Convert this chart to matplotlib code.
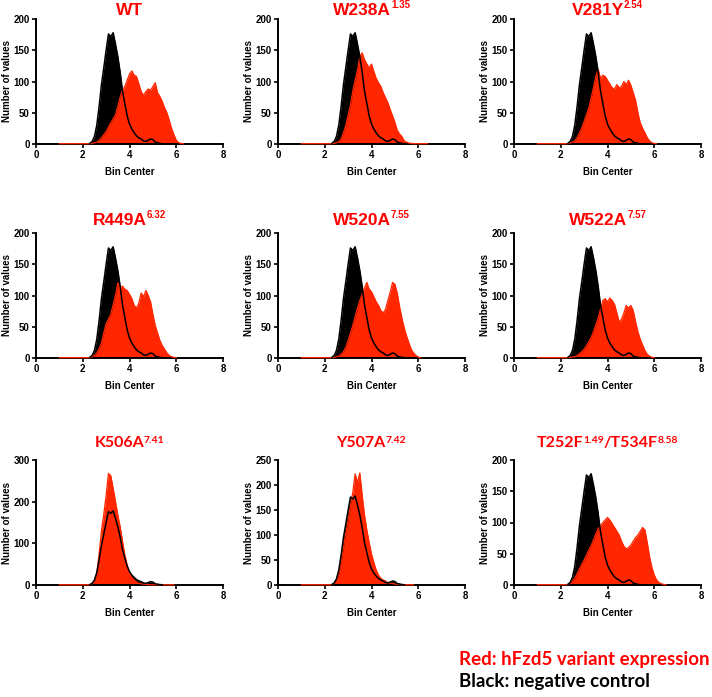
import numpy as np
import matplotlib
matplotlib.use('Agg')
import matplotlib.pyplot as plt

# histogram bin centres (bin width 0.1)
bin_center = np.round(np.arange(1.0, 6.51, 0.1), 1)

# negative control, the same in every panel
negative_control = [
    0, 0, 0, 0, 0, 0, 0, 0, 0, 0, 0, 0, 0,
    1, 4, 12, 30, 60, 95, 122, 150, 176, 172,
    178, 160, 140, 115, 85, 65, 45, 32, 24, 18,
    13, 10, 8, 5, 4, 6, 8, 7, 3, 2,
    1, 0.5, 0, 0, 0, 0, 0, 0, 0, 0, 0, 0, 0,
]

# variant expression, bins 1.0 ... 6.5
wt = [
    0.5, 0.5, 0.5, 0.5, 0.5, 0.5, 0.5, 0.5, 0.5, 0.5, 0.5, 0.5, 0.5, 0.5,
    1, 2, 3, 6, 10, 15, 20, 27, 34, 40,
    47, 60, 75, 86, 92, 102, 112, 117, 110, 108,
    96, 84, 78, 84, 88, 86, 92, 98, 82, 76,
    68, 58, 50, 38, 25, 15, 6, 2, 1, 0.5,
    0, 0,
]
w238a = [
    0.5, 0.5, 0.5, 0.5, 0.5, 0.5, 0.5, 0.5, 0.5, 0.5, 0.5, 0.5, 0.5, 0.5,
    1, 2, 4, 8, 18, 30, 46, 62, 85, 102,
    118, 140, 146, 135, 128, 122, 128, 116, 105, 98,
    92, 82, 74, 66, 55, 45, 35, 22, 16, 12,
    5, 3, 1.5, 1, 0.5, 0.5, 0.5, 0.5, 0.5, 0.5,
    0.5, 0,
]
v281y = [
    0.5, 0.5, 0.5, 0.5, 0.5, 0.5, 0.5, 0.5, 0.5, 0.5, 0.5, 0.5, 0.5, 0.5,
    1.5, 3, 5, 10, 18, 26, 36, 47, 58, 74,
    90, 108, 120, 105, 110, 108, 102, 96, 90, 88,
    95, 90, 92, 100, 95, 102, 94, 82, 70, 50,
    34, 25, 18, 10, 5, 2, 1, 0.5, 0, 0,
    0, 0,
]
r449a = [
    0.5, 0.5, 0.5, 0.5, 0.5, 0.5, 0.5, 0.5, 0.5, 0.5, 0.5, 0.5, 0.5, 0.5,
    2, 4, 8, 15, 24, 40, 55, 62, 70, 85,
    100, 120, 112, 115, 110, 108, 102, 95, 84, 80,
    88, 104, 98, 108, 100, 90, 70, 52, 40, 28,
    20, 14, 8, 4, 2, 1, 0.5, 0, 0, 0,
    0, 0,
]
w520a = [
    0.5, 0.5, 0.5, 0.5, 0.5, 0.5, 0.5, 0.5, 0.5, 0.5, 0.5, 0.5, 0.5, 0.5,
    1, 2, 3, 6, 10, 17, 28, 40, 52, 66,
    80, 92, 102, 112, 121, 110, 106, 98, 90, 84,
    76, 72, 78, 92, 105, 121, 118, 104, 82, 64,
    48, 35, 24, 14, 8, 4, 1.5, 0.5, 0, 0,
    0, 0,
]
w522a = [
    0.5, 0.5, 0.5, 0.5, 0.5, 0.5, 0.5, 0.5, 0.5, 0.5, 0.5, 0.5, 0.5, 0.5,
    1, 1.5, 2, 4, 7, 10, 14, 20, 26, 33,
    42, 53, 64, 78, 92, 95, 90, 96, 92, 86,
    72, 58, 62, 72, 84, 80, 84, 76, 58, 42,
    30, 21, 12, 6, 3, 1, 0.5, 0, 0, 0,
    0, 0,
]
k506a = [
    0.5, 0.5, 0.5, 0.5, 0.5, 0.5, 0.5, 0.5, 0.5, 0.5, 0.5, 0.5, 0.5, 0.5,
    3, 10, 28, 75, 130, 170, 215, 268, 262, 232,
    200, 168, 140, 105, 72, 48, 30, 18, 12, 7,
    4, 3, 2, 1.5, 1, 0.5, 0.5, 0.5, 0.5, 0.5,
    0.5, 0.5, 0.5, 0.5, 0.5, 0.5, 0, 0, 0, 0,
    0, 0,
]
y507a = [
    0.5, 0.5, 0.5, 0.5, 0.5, 0.5, 0.5, 0.5, 0.5, 0.5, 0.5, 0.5, 0.5, 0.5,
    3, 10, 22, 45, 75, 105, 130, 160, 185, 222,
    205, 224, 180, 140, 110, 85, 62, 45, 30, 20,
    13, 10, 8, 5, 4, 3, 2, 1.5, 1, 0.5,
    0.5, 0.5, 0.5, 0.5, 0.5, 0, 0, 0, 0, 0,
    0, 0,
]
t252f_t534f = [
    0.5, 0.5, 0.5, 0.5, 0.5, 0.5, 0.5, 0.5, 0.5, 0.5, 0.5, 0.5, 0.5, 0.5,
    3, 6, 11, 18, 26, 33, 40, 48, 56, 63,
    72, 82, 90, 95, 100, 104, 108, 104, 98, 92,
    86, 80, 70, 62, 58, 60, 64, 70, 76, 80,
    86, 92, 88, 68, 45, 28, 16, 8, 4, 2,
    1, 0.5,
]

variants = [wt, w238a, v281y, r449a, w520a, w522a, k506a, y507a, t252f_t534f]
titles = [
    [('WT', '')], [('W238A', '1.35')], [('V281Y', '2.54')],
    [('R449A', '6.32')], [('W520A', '7.55')], [('W522A', '7.57')],
    [('K506A', '7.41')], [('Y507A', '7.42')], [('T252F', '1.49'), ('/T534F', '8.58')],
]
y_max = [200, 200, 200, 200, 200, 200, 300, 250, 200]
y_step = [50, 50, 50, 50, 50, 50, 100, 50, 50]

legend_lines = ['Red: hFzd5 variant expression', 'Black: negative control']

RED_FILL = '#ff2600'
TITLE_RED = '#ff0000'

plt.rcParams['font.family'] = 'Liberation Sans'
plt.rcParams['font.weight'] = 'bold'
plt.rcParams['axes.labelweight'] = 'bold'

fig = plt.figure(figsize=(7.12, 6.97), dpi=100)
W, H = 712, 697

col_left = [36, 278, 514]
row_top = [19, 233, 460]
ax_w, ax_h = 187, 125


def place_title(ax, parts, base_px, size, sup_size, raise_px, family):
    renderer = fig.canvas.get_renderer()
    pieces = []
    for main, sup in parts:
        for s, is_sup in ((main, False), (sup, True)):
            if not s:
                continue
            t = fig.text(0, 0, s, fontsize=sup_size if is_sup else size,
                         color=TITLE_RED, family=family, weight='bold',
                         ha='left', va='baseline')
            pieces.append((t, is_sup, t.get_window_extent(renderer).width))
    box = ax.get_position()
    x = (box.x0 + box.x1) / 2 * W - sum(p[2] for p in pieces) / 2
    for t, is_sup, w in pieces:
        y = H - base_px + (raise_px if is_sup else 0)
        t.set_position((x / W, y / H))
        x += w


for i, (vals, parts) in enumerate(zip(variants, titles)):
    r, c = divmod(i, 3)
    ax = fig.add_axes([col_left[c] / W, 1 - (row_top[r] + ax_h) / H, ax_w / W, ax_h / H])
    vals = np.array(vals, dtype=float)
    ctrl = np.array(negative_control, dtype=float)

    ax.fill_between(bin_center, ctrl, color='black', lw=0, zorder=1.5)
    ax.fill_between(bin_center, vals, color=RED_FILL, lw=0, zorder=1.8)
    ax.plot(bin_center, np.where(vals > 0, vals, np.nan),
            color=RED_FILL, lw=0.9, zorder=2.6, clip_on=False)
    ax.plot(bin_center, np.where(ctrl > 0, ctrl, np.nan),
            color='black', lw=1.1, zorder=2.7, clip_on=False)

    ax.set_xlim(0, 8)
    ax.set_ylim(0, y_max[i])
    ax.set_xticks([0, 2, 4, 6, 8])
    ax.set_yticks(np.arange(0, y_max[i] + 1, y_step[i]))
    for side in ('top', 'right'):
        ax.spines[side].set_visible(False)
    for side in ('left', 'bottom'):
        ax.spines[side].set_linewidth(1.4)
    ax.tick_params(direction='out', length=3, width=1.2, labelsize=7, pad=1.5)
    ax.set_xlabel('Bin Center', fontsize=7, labelpad=5)
    ax.set_ylabel('Number of values', fontsize=7, labelpad=1)

    if r < 2:
        place_title(ax, parts, [15, 225][r], 12.5, 7, 7.3, 'Liberation Sans')
    else:
        place_title(ax, parts, 447, 11.5, 7.5, 4, 'Lato')

# colour key at the bottom right, sized to the width of the original text
renderer = fig.canvas.get_renderer()
key_red = fig.text(459 / W, 1 - 665 / H, legend_lines[0], color=TITLE_RED,
                   family='Lato', weight='bold', fontsize=14, va='baseline')
scale = 252 / key_red.get_window_extent(renderer).width
key_red.set_fontsize(14 * scale)
fig.text(459 / W, 1 - 687 / H, legend_lines[1], color='black',
         family='Lato', weight='bold', fontsize=14 * scale, va='baseline')

fig.savefig('out.png', dpi=100)
